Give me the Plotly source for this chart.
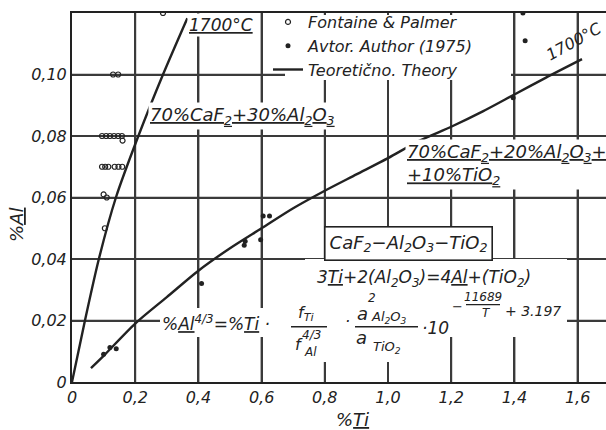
import plotly.graph_objects as go

# ---------------- data ----------------
fp_ti = [0.288, 0.130, 0.146, 0.095, 0.108, 0.120, 0.133, 0.146, 0.158, 0.160,
         0.095, 0.105, 0.115, 0.135, 0.147, 0.159, 0.100, 0.110, 0.104]
fp_al = [0.120, 0.100, 0.100, 0.080, 0.080, 0.080, 0.080, 0.080, 0.080, 0.0785,
         0.070, 0.070, 0.070, 0.070, 0.070, 0.070, 0.061, 0.060, 0.050]

au_ti = [0.100, 0.120, 0.140, 0.410, 0.545, 0.548, 0.597, 0.605, 0.625, 1.396, 1.427, 1.434]
au_al = [0.009, 0.0112, 0.0108, 0.032, 0.0445, 0.0458, 0.0463, 0.054, 0.054, 0.0924, 0.120, 0.111]

th1_ti = [0.0, 0.041, 0.085, 0.139, 0.210, 0.288, 0.365]
th1_al = [0.0, 0.020, 0.040, 0.060, 0.080, 0.100, 0.1183]

th2_ti = [0.06, 0.10, 0.20, 0.30, 0.40, 0.50, 0.60, 0.70, 0.80, 0.90, 1.00,
          1.10, 1.20, 1.30, 1.40, 1.50, 1.614]
th2_al = [0.0045, 0.0085, 0.019, 0.0276, 0.0362, 0.0435, 0.050, 0.0565, 0.0622,
          0.0675, 0.0728, 0.0785, 0.083, 0.088, 0.0935, 0.099, 0.105]

x_ticks = [0, 0.2, 0.4, 0.6, 0.8, 1.0, 1.2, 1.4, 1.6]
x_labels = ["0", "0,2", "0,4", "0,6", "0,8", "1,0", "1,2", "1,4", "1,6"]
y_ticks = [0, 0.02, 0.04, 0.06, 0.08, 0.10, 0.12]
y_labels = ["0", "0,02", "0,04", "0,06", "0,08", "0,10", ""]

# ---------------- layout geometry ----------------
W, H = 606, 430
ML, MR, MT, MB = 72, 0, 13, 48
PW, PH = W - ML - MR, H - MT - MB
X_PER_UNIT = 316.0
XMAX = PW / X_PER_UNIT
YMAX = 0.12

def PX(x):
    return (x - ML) / PW

def PY(y):
    return (H - MB - y) / PH

INK = "#222222"
GRID = "#3a3a3a"
FONT = "DejaVu Sans"

fig = go.Figure()

fig.add_trace(go.Scatter(
    x=fp_ti, y=fp_al, mode="markers", name="Fontaine & Palmer",
    marker=dict(symbol="circle-open", size=5, color=INK, line=dict(width=1.2, color=INK))))
fig.add_trace(go.Scatter(
    x=au_ti, y=au_al, mode="markers", name="Avtor. Author (1975)",
    marker=dict(symbol="circle", size=5, color=INK)))
fig.add_trace(go.Scatter(
    x=th1_ti, y=th1_al, mode="lines", name="Teoretično. Theory",
    line=dict(color=INK, width=2.4, shape="spline", smoothing=0.8), legendgroup="th"))
fig.add_trace(go.Scatter(
    x=th2_ti, y=th2_al, mode="lines", name="Teoretično. Theory",
    line=dict(color=INK, width=2.4, shape="spline", smoothing=0.8),
    legendgroup="th", showlegend=False))

shapes = []
# grid lines at the tick positions (drawn below the traces)
for xv in x_ticks[1:]:
    shapes.append(dict(type="line", xref="x", yref="y", x0=xv, x1=xv, y0=0, y1=YMAX,
                       line=dict(color=GRID, width=2), layer="below"))
for yv in y_ticks[1:-1]:
    shapes.append(dict(type="line", xref="x", yref="y", x0=0, x1=XMAX, y0=yv, y1=yv,
                       line=dict(color=GRID, width=1.5), layer="below"))

def block(x0, y0, x1, y1, color="white"):
    shapes.append(dict(type="rect", xref="paper", yref="paper",
                       x0=PX(x0), x1=PX(x1), y0=PY(y1), y1=PY(y0),
                       fillcolor=color, line=dict(width=0), layer="above"))

# white masks over the grid
block(285, 15, 511, 80)     # legend area
block(305, 259, 567, 337)   # equations
block(160, 308, 305, 337)   # formula left part
block(290, 337, 420, 362)   # denominators
# fraction bars
block(291, 326, 327, 327.4, INK)
block(355, 326, 418, 327.4, INK)
block(466, 304, 500, 305.2, INK)

anns = []
def ann(text, x, y, size, xanchor="center", yanchor="middle", bg=None, **kw):
    d = dict(text=text, x=PX(x), y=PY(y), xref="paper", yref="paper",
             xanchor=xanchor, yanchor=yanchor, showarrow=False,
             font=dict(family=FONT, size=size, color=INK, style="italic"))
    if bg:
        d["bgcolor"] = bg
        d["borderpad"] = 1
    d.update(kw)
    anns.append(d)

ann("<u>1700°C</u>", 221, 25, 17, bg="white")
ann("<u>70%CaF<sub>2</sub>+30%Al<sub>2</sub>O<sub>3</sub></u>", 242, 116, 18, bg="white")
ann("<u>70%CaF<sub>2</sub>+20%Al<sub>2</sub>O<sub>3</sub>+</u><br><u>+10%TiO<sub>2</sub></u>",
    405, 164, 18, xanchor="left", bg="white", align="left")
ann("1700°C", 574, 42, 16, textangle=-29)
ann("CaF<sub>2</sub>−Al<sub>2</sub>O<sub>3</sub>−TiO<sub>2</sub>", 408, 243, 18,
    bg="white", bordercolor=INK, borderwidth=1.6, borderpad=4)
ann("3<u>Ti</u>+2(Al<sub>2</sub>O<sub>3</sub>)=4<u>Al</u>+(TiO<sub>2</sub>)", 424, 278, 17)
ann("%<u>Al</u><sup>4/3</sup>=%<u>Ti</u> ·", 160, 323, 17, xanchor="left")
ann("f<sub>Ti</sub>", 306, 313, 16)
ann("f", 299, 344, 16)
ann("4/3", 311, 335, 12)
ann("Al", 310, 352, 12)
ann("·", 347, 321, 16)
ann("a", 362, 313, 18)
ann("2", 372, 298, 12)
ann("Al<sub>2</sub>O<sub>3</sub>", 389, 317, 13)
ann("a", 361, 337, 18)
ann("TiO<sub>2</sub>", 387, 347, 13)
ann("·10", 435, 328, 17)
ann("−", 457, 306, 13)
ann("11689", 483, 297, 12)
ann("T", 486, 313, 12)
ann("+ 3.197", 533, 311, 14)

ann("%<u>Ti</u>", 352, 420, 18)
ann("%<u>Al</u>", 16, 225, 18, textangle=-90)

fig.update_layout(
    template="none",
    width=W, height=H,
    margin=dict(l=ML, r=MR, t=MT, b=MB, pad=0),
    paper_bgcolor="white", plot_bgcolor="rgba(0,0,0,0)",
    font=dict(family=FONT, color=INK),
    shapes=shapes, annotations=anns,
    showlegend=True,
    legend=dict(x=PX(268), y=PY(5), xanchor="left", yanchor="top",
                bgcolor="rgba(0,0,0,0)", borderwidth=0,
                font=dict(family=FONT, size=16, color=INK, style="italic"),
                traceorder="normal", tracegroupgap=0, itemwidth=30),
)

fig.update_xaxes(
    range=[0, XMAX], tickmode="array", tickvals=x_ticks, ticktext=x_labels,
    showgrid=True, gridcolor=GRID, gridwidth=2, zeroline=False,
    showline=True, linecolor=INK, linewidth=2, mirror=True, ticks="",
    tickfont=dict(family=FONT, size=16, color=INK, style="italic"),
)
fig.update_yaxes(
    range=[0, YMAX], tickmode="array", tickvals=y_ticks, ticktext=y_labels,
    showgrid=True, gridcolor=GRID, gridwidth=1.5, zeroline=False,
    showline=True, linecolor=INK, linewidth=2, mirror=False, ticks="",
    tickfont=dict(family=FONT, size=16, color=INK, style="italic"),
)

fig.write_html("out.html")
